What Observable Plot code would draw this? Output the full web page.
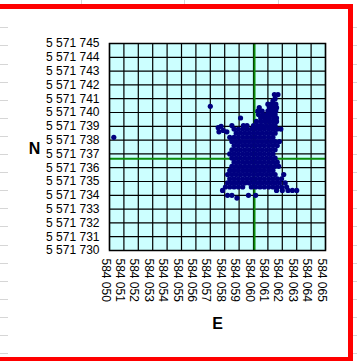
<!DOCTYPE html>
<html><head><meta charset="utf-8">
<script src="https://cdn.jsdelivr.net/npm/d3@7"></script>
<script src="https://cdn.jsdelivr.net/npm/@observablehq/plot@0.6"></script>
<style>
html,body{margin:0;padding:0;background:#fff;overflow:hidden}
#wrap{position:relative;width:357px;height:361px;overflow:hidden;background:#fff}
#chart{position:absolute;left:0;top:0}
.gl{position:absolute;background:#d6d6d6}
#red{position:absolute;left:-20px;top:3.5px;width:373.3px;height:358.5px;box-sizing:border-box;border:5px solid #ff0000}
</style>
</head><body>
<div id="wrap"><div id="deco"></div><div id="chart"></div><div id="red"></div></div>
<script>
// tick labels
const eastTicks = [584050,584051,584052,584053,584054,584055,584056,584057,584058,584059,584060,584061,584062,584063,584064,584065];
const northTicks = [5571730,5571731,5571732,5571733,5571734,5571735,5571736,5571737,5571738,5571739,5571740,5571741,5571742,5571743,5571744,5571745];
// mean position (green cross)
const meanEast = 584060.07;
const meanNorth = 5571736.65;
// measured positions, grouped by northing row
const northRows = [5571741.3,5571741.0,5571740.85,5571740.6,5571740.35,5571740.1,5571739.85,5571739.6,5571739.35,5571739.05,
  5571738.8,5571738.5,5571738.2,5571737.9,5571737.6,5571737.3,5571737.0,5571736.7,5571736.4,5571736.1,5571735.8,
  5571735.5,5571735.2,5571734.9,5571734.6,5571734.35,5571734.0,5571733.8];
const eastRows = [
  [584061.45,584061.7],
  [584061.5],
  [584061.35],
  [584061.0,584061.25,584061.55],
  [584060.4,584061.1,584061.35,584061.6],
  [584060.3,584060.6,584061.0,584061.3,584061.55],
  [584060.35,584060.65,584060.95,584061.2,584061.5],
  [584059.1,584060.5,584060.8,584061.1,584061.4,584061.6],
  [584060.2,584060.5,584060.8,584061.1,584061.35,584061.6],
  [584058.5,584059.3,584059.55,584060.0,584060.3,584060.6,584060.9,584061.2,584061.5],
  [584058.65,584058.95,584059.25,584059.55,584059.85,584060.15,584060.45,584060.75,584061.05,584061.35,584061.65,584061.9],
  [584058.8,584059.1,584059.4,584059.7,584060.0,584060.3,584060.6,584060.9,584061.2,584061.5],
  [584058.35,584058.65,584058.95,584059.25,584059.55,584059.85,584060.15,584060.45,584060.75,584061.05,584061.35],
  [584058.5,584058.8,584059.1,584059.4,584059.7,584060.0,584060.3,584060.6,584060.9,584061.2,584061.5,584061.8],
  [584058.65,584058.95,584059.25,584059.55,584059.85,584060.15,584060.45,584060.75,584061.05,584061.35,584061.65],
  [584058.5,584058.8,584059.1,584059.4,584059.7,584060.0,584060.3,584060.6,584060.9,584061.2,584061.5],
  [584058.35,584058.65,584058.95,584059.25,584059.55,584059.85,584060.15,584060.45,584060.75,584061.05,584061.35],
  [584058.5,584058.8,584059.1,584059.4,584059.7,584060.0,584060.3,584060.6,584060.9,584061.2,584061.5],
  [584058.65,584058.95,584059.25,584059.55,584059.85,584060.15,584060.45,584060.75,584061.05,584061.35,584061.65],
  [584058.5,584058.8,584059.1,584059.4,584059.7,584060.0,584060.3,584060.6,584060.9,584061.2,584061.5,584061.75],
  [584058.35,584058.65,584058.95,584059.25,584059.55,584059.85,584060.15,584060.45,584060.75,584061.05,584061.35],
  [584058.2,584058.5,584058.8,584059.1,584059.4,584059.7,584060.0,584060.3,584060.6,584060.9,584061.2,584061.5,584062.1],
  [584058.35,584058.65,584058.95,584059.25,584059.55,584059.85,584060.15,584060.45,584060.75,584061.05,584061.35,584061.65,584061.95],
  [584058.2,584058.5,584058.8,584059.1,584059.4,584059.7,584060.0,584060.3,584060.6,584060.9,584061.2,584061.5,584061.8,584062.2],
  [584058.05,584058.35,584058.65,584058.95,584059.25,584059.85,584060.15,584060.45,584060.75,584061.05,584061.35,584061.65,584061.95,584062.3],
  [584057.85,584061.6,584062.0,584062.4,584062.7,584063.0],
  [584058.2,584058.5,584059.65,584060.15],
  [584058.85]
];
// scattered single positions
const extraEast = [584057.55,584057.75,584057.9,584058.15,584057.6,584057.0,584050.3];
const extraNorth = [5571738.9,5571739.0,5571738.7,5571738.6,5571738.6,5571740.45,5571738.2];

const points = northRows.flatMap((n, i) => eastRows[i].map(e => ({e, n})))
  .concat(extraEast.map((e, i) => ({e, n: extraNorth[i]})));

const fmt = d3.formatLocale({decimal: ",", thousands: " ", grouping: [3], currency: ["", ""]}).format(",d");

const plot = Plot.plot({
  width: 357, height: 361,
  marginLeft: 109, marginRight: 32, marginTop: 43, marginBottom: 111,
  style: {fontFamily: "'Liberation Sans', Arial, sans-serif", fontSize: "12px", color: "#000", background: "transparent"},
  x: {domain: [eastTicks[0], eastTicks[eastTicks.length - 1]]},
  y: {domain: [northTicks[0], northTicks[northTicks.length - 1]]},
  marks: [
    Plot.frame({fill: "#ccffff"}),
    Plot.gridX(eastTicks, {stroke: "#000", strokeOpacity: 1, strokeWidth: 1.2}),
    Plot.gridY(northTicks, {stroke: "#000", strokeOpacity: 1, strokeWidth: 1.2}),
    Plot.ruleX([meanEast], {stroke: "#0a8a0a", strokeWidth: 2}),
    Plot.ruleY([meanNorth], {stroke: "#0a8a0a", strokeWidth: 2}),
    Plot.dot(points, {x: "e", y: "n", r: 2.6, fill: "#000080", stroke: null}),
    Plot.frame({stroke: "#000", strokeWidth: 1.5}),
    Plot.axisY(northTicks, {tickSize: 0, tickPadding: 10, tickFormat: fmt, label: null, fontSize: 12}),
    Plot.axisX(eastTicks, {tickSize: 0, tickPadding: 8, tickRotate: 90, tickFormat: fmt, label: null, fontSize: 12, dx: -4}),
    Plot.text(["N"], {frameAnchor: "left", textAnchor: "middle", lineAnchor: "middle", dx: -75, dy: 1.5, fontWeight: "bold", fontSize: 16}),
    Plot.text(["E"], {frameAnchor: "bottom", textAnchor: "middle", lineAnchor: "middle", dy: 73.5, fontWeight: "bold", fontSize: 16})
  ]
});
document.getElementById("chart").appendChild(plot);

// spreadsheet background lines
const deco = document.getElementById("deco");
function gl(x, y, w, h) {
  const d = document.createElement("div");
  d.className = "gl";
  d.style.left = x + "px"; d.style.top = y + "px"; d.style.width = w + "px"; d.style.height = h + "px";
  deco.appendChild(d);
}
for (let k = 0; k < 19; k++) {
  const y = Math.round(27.3 + 18.1 * k);
  gl(0, y, 7.5, 1);
  gl(353.3, y, 4, 1);
}
[81, 184, 278].forEach(x => gl(x, 0, 1, 4));
</script>
</body></html>
